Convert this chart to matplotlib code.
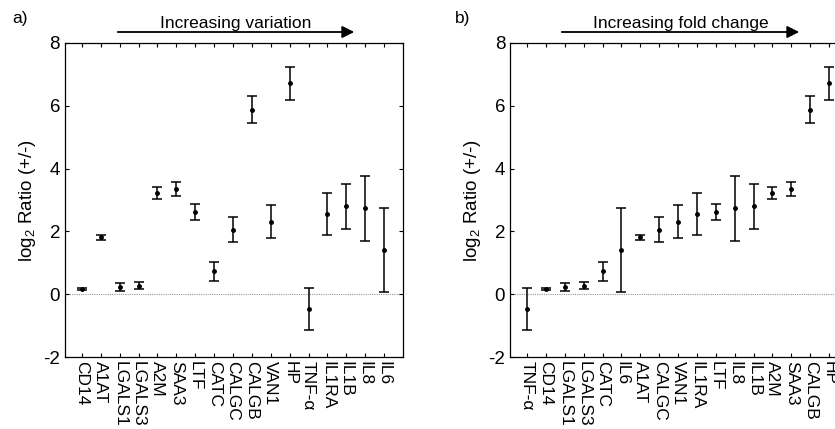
import numpy as np
import matplotlib
matplotlib.use("Agg")
import matplotlib.pyplot as plt

plt.rcParams['font.family'] = ['Liberation Sans', 'DejaVu Sans']
plt.rcParams['axes.unicode_minus'] = False
plt.rcParams['mathtext.fontset'] = 'custom'
plt.rcParams['mathtext.rm'] = 'Liberation Sans'

# genes in order of increasing variation (panel a)
genes = ['CD14', 'A1AT', 'LGALS1', 'LGALS3', 'A2M', 'SAA3', 'LTF', 'CATC', 'CALGC',
         'CALGB', 'VAN1', 'HP', 'TNF-α', 'IL1RA', 'IL1B', 'IL8', 'IL6']
log2_ratio = [0.17, 1.81, 0.235, 0.27, 3.22, 3.35, 2.62, 0.73, 2.06,
              5.88, 2.31, 6.71, -0.47, 2.55, 2.80, 2.73, 1.41]
err = [0.04, 0.07, 0.13, 0.11, 0.19, 0.22, 0.26, 0.31, 0.41,
       0.44, 0.52, 0.54, 0.66, 0.68, 0.71, 1.05, 1.34]

# order of increasing fold change (panel b)
genes_b = ['TNF-α', 'CD14', 'LGALS1', 'LGALS3', 'CATC', 'IL6', 'A1AT', 'CALGC', 'VAN1',
           'IL1RA', 'LTF', 'IL8', 'IL1B', 'A2M', 'SAA3', 'CALGB', 'HP']

fig = plt.figure(figsize=(8.35, 4.29), dpi=100)
ax1 = fig.add_axes([0.0778, 0.1678, 0.4048, 0.732])
ax2 = fig.add_axes([0.6108, 0.1678, 0.4048, 0.732])


def panel(ax, names):
    idx = [genes.index(n) for n in names]
    y = [log2_ratio[i] for i in idx]
    e = [err[i] for i in idx]
    x = np.arange(1, len(names) + 1)
    ax.axhline(0, color='#999999', lw=0.8, ls=(0, (1, 1)), zorder=1)
    ax.errorbar(x, y, yerr=e, fmt='o', ms=2.5, color='k', ecolor='k',
                elinewidth=1.1, capsize=3.5, capthick=1.1, zorder=3)
    ax.set_xlim(0.1, len(names) + 1)
    ax.set_ylim(-2, 8)
    ax.set_yticks([-2, 0, 2, 4, 6, 8])
    ax.set_xticks(x)
    ax.set_xticklabels(names, rotation=270, fontsize=12.5)
    ax.tick_params(axis='x', pad=3)
    ax.tick_params(axis='y', labelsize=13.5)
    ax.tick_params(direction='in', top=True, right=True, length=3, width=0.8)
    ax.set_ylabel('log$_2$ Ratio (+/-)', fontsize=13.5, labelpad=4)
    for s in ax.spines.values():
        s.set_linewidth(0.9)


panel(ax1, genes)
panel(ax2, genes_b)


def header(x0, x1, label, tag, xtag):
    W, H = 835, 429
    fig.add_artist(matplotlib.patches.FancyArrowPatch(
        (x0 / W, 1 - 32 / H), (x1 / W, 1 - 32 / H), transform=fig.transFigure,
        arrowstyle='-|>', mutation_scale=18, lw=1.3, color='k'))
    fig.text((x0 + x1) / 2 / W, 1 - 31 / H, label, ha='center', va='bottom', fontsize=12.5)
    fig.text(xtag / W, 1 - 18 / H, tag, ha='left', va='center', fontsize=12.5)


header(115, 357, 'Increasing variation', 'a)', 12)
header(559, 802, 'Increasing fold change', 'b)', 455)

fig.savefig('out.png', dpi=100)
